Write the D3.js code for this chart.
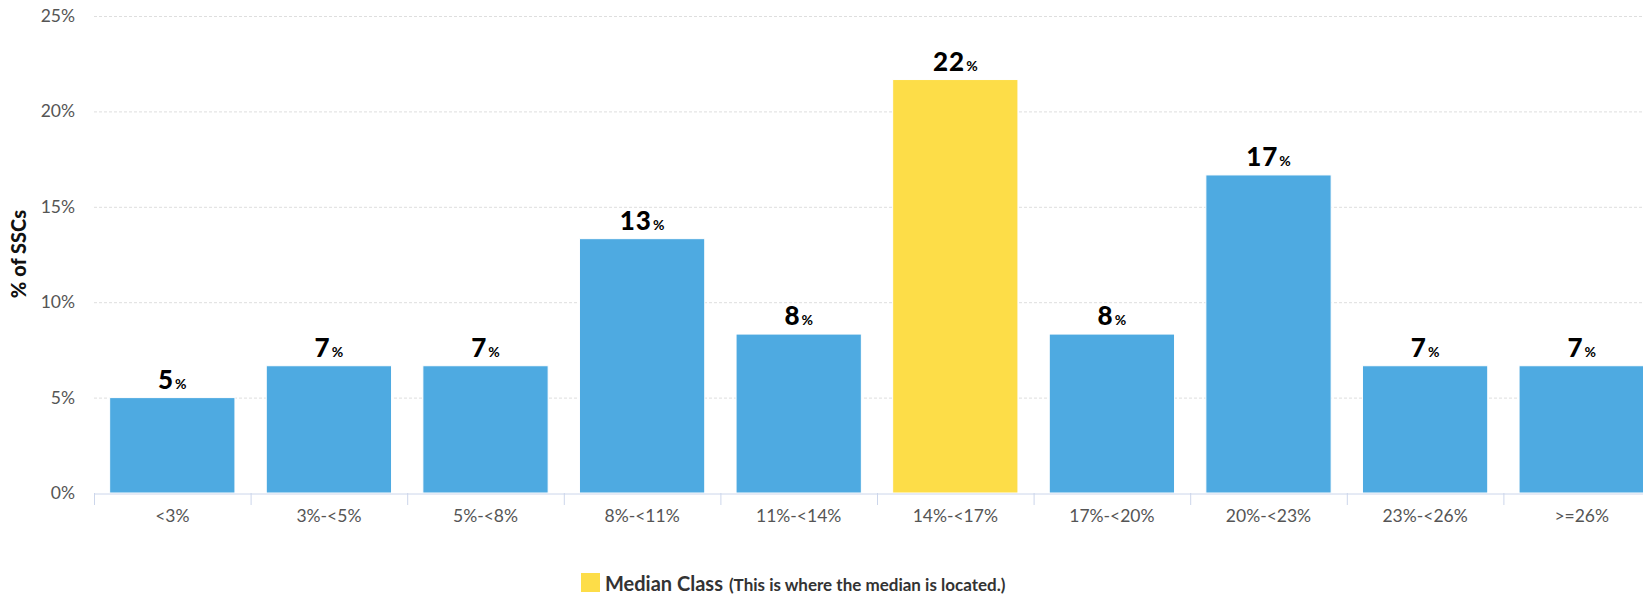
<!DOCTYPE html>
<head>
  <meta charset="utf-8">
  <script src="https://d3js.org/d3.v7.min.js"></script>
  <style>
    body { margin:0; background:#fff; }
    text { font-family: Lato, "Open Sans", sans-serif; }
  </style>
</head>
<body>
<script>
// chart data
var categories = ["<3%", "3%-<5%", "5%-<8%", "8%-<11%", "11%-<14%", "14%-<17%", "17%-<20%", "20%-<23%", "23%-<26%", ">=26%"];
var values = [5.0, 6.67, 6.67, 13.33, 8.33, 21.67, 8.33, 16.67, 6.67, 6.67];
var labels = ["5", "7", "7", "13", "8", "22", "8", "17", "7", "7"];
var medianIndex = 5;
var yTicks = [0, 5, 10, 15, 20, 25];
var legendText = "Median Class";
var legendNote = "(This is where the median is located.)";

var W = 1643, H = 597;
var svg = d3.select("body").append("svg")
    .attr("width", W)
    .attr("height", H);

var x = d3.scaleBand()
    .domain(categories)
    .range([94, 1660])
    .paddingInner(0.2)
    .paddingOuter(0.1);

var y = d3.scaleLinear()
    .domain([0, 25])
    .range([493, 16]);

// gridlines
svg.append("g")
  .selectAll("line")
  .data(yTicks.slice(1))
  .enter().append("line")
    .attr("x1", 94).attr("x2", W)
    .attr("y1", function(d){ return y(d) + 0.5; })
    .attr("y2", function(d){ return y(d) + 0.5; })
    .attr("stroke", "#dedede")
    .attr("stroke-dasharray", "3,2");

// y tick labels
svg.append("g")
  .selectAll("text")
  .data(yTicks)
  .enter().append("text")
    .attr("x", 75)
    .attr("y", function(d){ return y(d) + 6; })
    .attr("text-anchor", "end")
    .attr("fill", "#555")
    .style("font-size", "17.5px")
    .text(function(d){ return d + "%"; });

// y axis title
svg.append("text")
  .attr("transform", "translate(" + [26, 254] + ") rotate(-90)")
  .attr("text-anchor", "middle")
  .attr("fill", "#111")
  .style("font-size", "20px")
  .style("font-weight", "900")
  .text("% of SSCs");

// bars
svg.append("g")
  .selectAll("rect")
  .data(values)
  .enter().append("rect")
    .attr("x", function(d, i){ return x(categories[i]); })
    .attr("y", function(d){ return y(d); })
    .attr("width", x.bandwidth())
    .attr("height", function(d){ return y(0) - y(d); })
    .attr("fill", function(d, i){ return i == medianIndex ? "#fddd48" : "#4eaae1"; })
    .attr("stroke", "#fff")
    .attr("stroke-width", 1);

// x axis
var xAxis = svg.append("g")
    .attr("transform", "translate(0," + 493.5 + ")")
    .call(d3.axisBottom(x).tickSize(0).tickPadding(16));
xAxis.select(".domain").attr("stroke", "#ccd6eb");
xAxis.selectAll(".tick text")
    .attr("fill", "#555")
    .style("font-size", "17.5px")
    .style("font-family", "Lato, 'Open Sans', sans-serif");

// boundary ticks between categories
var bounds = d3.range(categories.length + 1).map(function(i){ return x.range()[0] + i * x.step(); });
svg.append("g")
  .selectAll("line")
  .data(bounds)
  .enter().append("line")
    .attr("x1", function(d){ return d + 0.5; })
    .attr("x2", function(d){ return d + 0.5; })
    .attr("y1", 493)
    .attr("y2", 505)
    .attr("stroke", "#ccd6eb");

// data labels
var lab = svg.append("g")
  .selectAll("text")
  .data(values)
  .enter().append("text")
    .attr("x", function(d, i){ return x(categories[i]) + x.bandwidth() / 2; })
    .attr("y", function(d){ return y(d) - 9; })
    .attr("text-anchor", "middle")
    .attr("fill", "#000");
lab.append("tspan")
    .style("font-size", "26px")
    .style("font-weight", "900")
    .style("letter-spacing", "1px")
    .text(function(d, i){ return labels[i]; });
lab.append("tspan")
    .style("font-size", "14px")
    .style("font-weight", "700")
    .attr("dx", 1)
    .text("%");

// legend
svg.append("rect")
  .attr("x", 581).attr("y", 573)
  .attr("width", 19).attr("height", 19)
  .attr("fill", "#fddd48");
var leg = svg.append("text")
  .attr("x", 605)
  .attr("y", 591)
  .attr("fill", "#333");
leg.append("tspan")
  .style("font-size", "20px")
  .style("font-weight", "700")
  .text(legendText);
leg.append("tspan")
  .attr("dx", 6)
  .style("font-size", "17px")
  .style("font-weight", "700")
  .text(legendNote);
</script>
</body>
